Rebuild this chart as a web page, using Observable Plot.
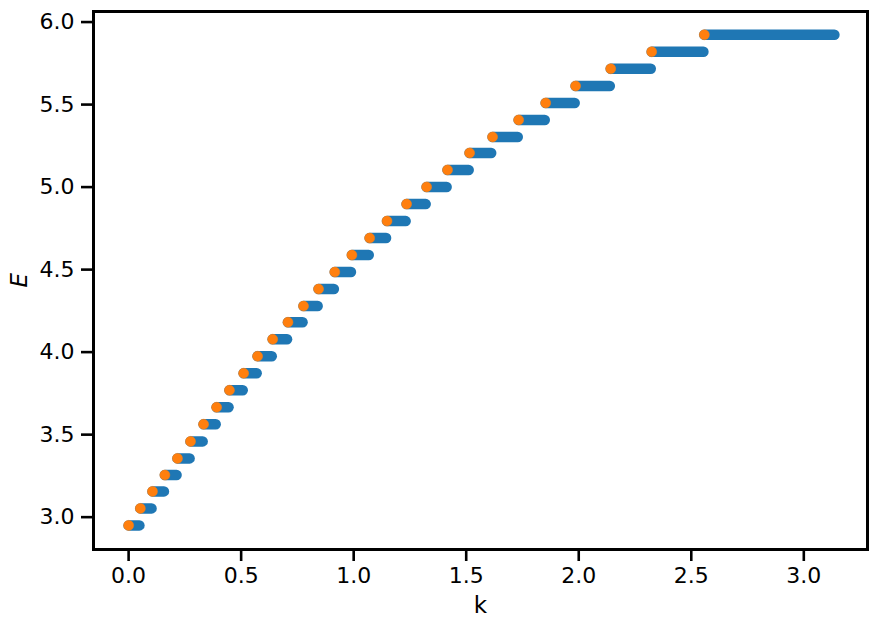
<!DOCTYPE html>
<html>
<head>
<meta charset="utf-8">
<script src="https://cdn.jsdelivr.net/npm/d3@7"></script>
<script src="https://cdn.jsdelivr.net/npm/@observablehq/plot@0.6"></script>
<style>
  html, body { margin: 0; padding: 0; background: #fff; }
  #chart svg { display: block; }
  #chart svg text { font-family: "DejaVu Sans", sans-serif; fill: #000; }
  #chart svg g[aria-label="x-axis tick label"] text,
  #chart svg g[aria-label="y-axis tick label"] text { font-size: 22px; }
  #chart svg g[aria-label="x-axis label"] text { font-size: 23px; }
</style>
</head>
<body>
<div id="chart"></div>
<script>
// Energy levels E (one per plateau)
const levelE = [2.950, 3.053, 3.156, 3.255, 3.356, 3.459, 3.563, 3.666, 3.769, 3.872,
                3.975, 4.078, 4.181, 4.279, 4.382, 4.485, 4.588, 4.691, 4.794, 4.897,
                5.001, 5.104, 5.207, 5.304, 5.407, 5.510, 5.613, 5.717, 5.820, 5.923];
// k where each plateau starts (orange points)
const kStart = [0.000, 0.052, 0.106, 0.161, 0.217, 0.275, 0.333, 0.391, 0.448, 0.511,
                0.573, 0.640, 0.708, 0.777, 0.844, 0.916, 0.992, 1.071, 1.148, 1.235,
                1.324, 1.417, 1.515, 1.617, 1.733, 1.853, 1.986, 2.142, 2.324, 2.558];
// k where each plateau ends (last blue point)
const kEnd   = [0.048, 0.102, 0.157, 0.213, 0.271, 0.329, 0.387, 0.444, 0.507, 0.569,
                0.636, 0.704, 0.773, 0.840, 0.912, 0.988, 1.067, 1.144, 1.231, 1.320,
                1.413, 1.511, 1.611, 1.729, 1.849, 1.982, 2.138, 2.320, 2.554, 3.136];

const xTicks = [0, 0.5, 1.0, 1.5, 2.0, 2.5, 3.0];
const yTicks = [3.0, 3.5, 4.0, 4.5, 5.0, 5.5, 6.0];

const plateaus = levelE.map((E, i) => ({E, k0: kStart[i], k1: kEnd[i]}));

const blue = "#1f77b4";
const orange = "#ff7f0e";

const chart = Plot.plot({
  width: 877,
  height: 629,
  marginLeft: 93,
  marginRight: 10,
  marginTop: 11,
  marginBottom: 80,
  style: {fontFamily: "DejaVu Sans", color: "black", background: "white"},
  x: {domain: [-0.156, 3.283]},
  y: {domain: [2.804, 6.064]},
  marks: [
    Plot.link(plateaus, {x1: "k0", x2: "k1", y1: "E", y2: "E",
      stroke: blue, strokeWidth: 10.5, strokeLinecap: "round"}),
    Plot.dot(plateaus, {x: "k0", y: "E", r: 5, fill: orange, stroke: orange, strokeWidth: 0.5}),
    Plot.frame({stroke: "black", strokeWidth: 3}),
    Plot.axisX({ticks: xTicks, tickFormat: d3.format(".1f"), tickSize: 12, tickPadding: 6,
      strokeWidth: 2.6, label: "k", labelAnchor: "center", labelArrow: "none", labelOffset: 63}),
    Plot.axisY({ticks: yTicks, tickFormat: d3.format(".1f"), tickSize: 12, tickPadding: 7,
      strokeWidth: 2.6, label: null}),
    Plot.text(["E"], {frameAnchor: "left", dx: -74, dy: 7, rotate: -90, text: d => d, fill: "black"})
  ]
});
d3.select(chart).selectAll("text").filter(function() { return this.textContent === "E"; })
  .attr("font-size", 23).attr("font-style", "italic");
document.getElementById("chart").appendChild(chart);
</script>
</body>
</html>
